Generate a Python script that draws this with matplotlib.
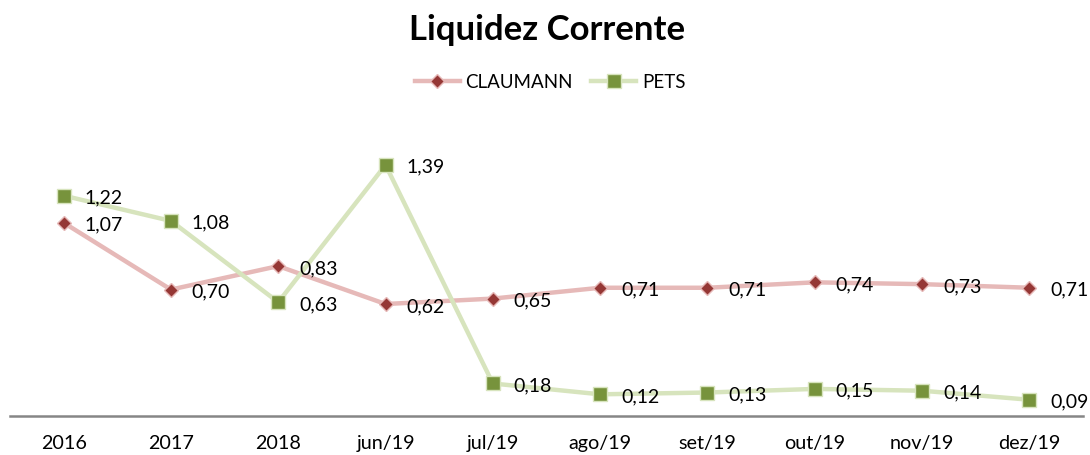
import matplotlib
matplotlib.use("Agg")
import matplotlib.pyplot as plt

categories = ["2016", "2017", "2018", "jun/19", "jul/19", "ago/19", "set/19", "out/19", "nov/19", "dez/19"]
claumann = [1.07, 0.70, 0.83, 0.62, 0.65, 0.71, 0.71, 0.74, 0.73, 0.71]
pets = [1.22, 1.08, 0.63, 1.39, 0.18, 0.12, 0.13, 0.15, 0.14, 0.09]

plt.rcParams['font.family'] = ['Lato', 'DejaVu Sans']

W, H = 1090, 456
fig = plt.figure(figsize=(W/100, H/100), dpi=100)
ax = fig.add_axes([10/W, (H-417)/H, (1083-10)/W, (417-128)/H])

x = list(range(len(categories)))
ax.plot(x, claumann, color="#E6B9B8", lw=3.2, marker="D", ms=7.5,
        mfc="#953735", mec="#E6B9B8", mew=1, label="CLAUMANN", zorder=3)
ax.plot(x, pets, color="#D7E4BD", lw=3.2, marker="s", ms=10,
        mfc="#77933C", mec="#D7E4BD", mew=1, label="PETS", zorder=3)

for xi, v in zip(x, claumann):
    ax.annotate(f"{v:.2f}".replace(".", ","), (xi, v), xytext=(15, -1),
                textcoords="offset points", va="center", ha="left", fontsize=14)
for xi, v in zip(x, pets):
    ax.annotate(f"{v:.2f}".replace(".", ","), (xi, v), xytext=(15, -1),
                textcoords="offset points", va="center", ha="left", fontsize=14)

ax.set_xlim(-0.5, len(categories) - 0.5)
ax.set_ylim(0, 1.6)
ax.set_xticks(x)
ax.set_xticklabels(categories, fontsize=14.2)
ax.tick_params(axis="x", length=0, pad=13)
ax.set_yticks([])
for s in ["left", "right", "top"]:
    ax.spines[s].set_visible(False)
ax.spines["bottom"].set_color("#868686")
ax.spines["bottom"].set_linewidth(1.8)
ax.patch.set_alpha(0)

fig.text(547/W, 1 - 30/H, "Liquidez Corrente", ha="center", va="center",
         fontsize=25, fontweight="bold")
fig.legend(loc="center", bbox_to_anchor=(550/W, 1 - 83/H), ncol=2, frameon=False,
           fontsize=13.5, handlelength=2.4, columnspacing=1.0, handletextpad=0.3)

fig.savefig("out.png", dpi=100)
